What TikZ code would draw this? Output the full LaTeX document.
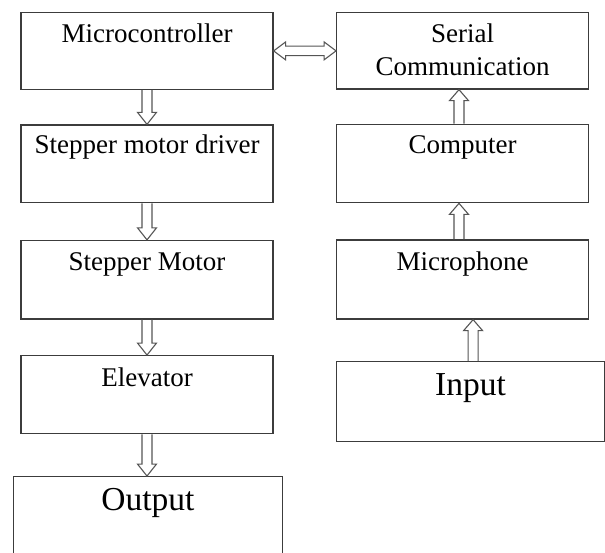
\documentclass[tikz,border=0pt]{standalone}
\usepackage{fontspec}
\setmainfont{Liberation Serif}
\usetikzlibrary{calc}
\definecolor{boxc}{HTML}{3C3C3C}
\definecolor{arrc}{HTML}{555555}
\tikzset{
  box/.style={draw=boxc, line width=1.3pt, minimum width=252pt, minimum height=77pt, inner sep=0pt},
  lbl/.style={anchor=base, inner sep=0pt, font=\fontsize{27}{32}\selectfont},
  biglbl/.style={anchor=base, inner sep=0pt, font=\fontsize{33.5}{40}\selectfont},
  blk/.style={draw=arrc, line width=1.1pt, line join=miter},
}
\newcommand\downblk[2]{\draw[blk] let \p1=(#1), \p2=(#2) in
  (\x1-5pt,\y1) -- (\x1-5pt,\y2+12pt) -- (\x1-9.5pt,\y2+12pt) -- (\x1,\y2) -- (\x1+9.5pt,\y2+12pt) -- (\x1+5pt,\y2+12pt) -- (\x1+5pt,\y1);}
\newcommand\upblk[2]{\draw[blk] let \p1=(#1), \p2=(#2) in
  (\x1-5pt,\y1) -- (\x1-5pt,\y2-11pt) -- (\x1-9.5pt,\y2-11pt) -- (\x1,\y2) -- (\x1+9.5pt,\y2-11pt) -- (\x1+5pt,\y2-11pt) -- (\x1+5pt,\y1);}
\newcommand\dblblk[2]{\draw[blk] let \p1=(#1), \p2=(#2) in
  (\x1,\y1) -- (\x1+12pt,\y1+9pt) -- (\x1+12pt,\y1+4.7pt) -- (\x2-12pt,\y1+4.7pt) -- (\x2-12pt,\y1+9pt) -- (\x2,\y1)
  -- (\x2-12pt,\y1-9pt) -- (\x2-12pt,\y1-4.7pt) -- (\x1+12pt,\y1-4.7pt) -- (\x1+12pt,\y1-9pt) -- cycle;}
\begin{document}
\begin{tikzpicture}[x=1pt, y=-1pt]
\useasboundingbox (0,0) rectangle (605,553);
\clip (0,0) rectangle (605,553);
% left column
\node[box, minimum height=76.8pt] (micro) at (147,50.9) {};
\node[box, minimum height=77.7pt] (driver) at (147,163.85) {};
\node[box, minimum height=78.5pt] (motor) at (147,279.75) {};
\node[box, minimum height=78pt] (elev) at (147,394.7) {};
\node[box, minimum width=269.4pt, minimum height=100pt] (out) at (148,526.7) {};
% right column
\node[box, minimum width=251.6pt, minimum height=76.5pt] (serial) at (462.5,50.75) {};
\node[box, minimum width=251.6pt, minimum height=78.4pt] (comp) at (462.5,163.5) {};
\node[box, minimum width=251.6pt, minimum height=79pt] (mic) at (462.5,279.5) {};
\node[box, minimum width=267.8pt, minimum height=80pt] (inp) at (470.6,401.7) {};
% labels
\node[lbl] (microT) at ($(micro.north)+(0,31)$) {Microcontroller};
\node[lbl] (driverT) at ($(driver.north)+(0,29.5)$) {Stepper motor driver};
\node[lbl] (motorT) at ($(motor.north)+(0,30.5)$) {Stepper Motor};
\node[lbl] (elevT) at ($(elev.north)+(0,31)$) {Elevator};
\node[biglbl] (outT) at ($(out.north)+(0,34)$) {Output};
\node[lbl] (serialT1) at ($(serial.north)+(0,31)$) {Serial};
\node[lbl] (serialT2) at ($(serial.north)+(0,64)$) {Communication};
\node[lbl] (compT) at ($(comp.north)+(0,29.7)$) {Computer};
\node[lbl] (micT) at ($(mic.north)+(0,31)$) {Microphone};
\node[biglbl] (inpT) at ($(inp.north)+(0,34.5)$) {Input};
% arrows
\dblblk{micro.east}{serial.west}
\downblk{micro.south}{driver.north}
\downblk{driver.south}{motor.north}
\downblk{motor.south}{elev.north}
\downblk{elev.south}{out.north}
\upblk{[xshift=-3.5pt]comp.north}{[xshift=-3.5pt]serial.south}
\upblk{[xshift=-3.5pt]mic.north}{[xshift=-3.5pt]comp.south}
\upblk{[xshift=2.5pt]inp.north}{[xshift=2.5pt]mic.south}
\end{tikzpicture}
\end{document}
